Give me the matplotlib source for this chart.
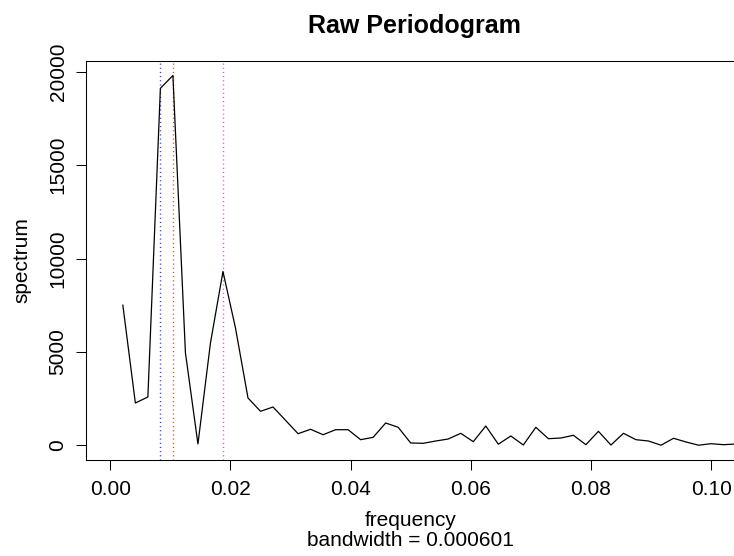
import numpy as np
import matplotlib
matplotlib.use("Agg")
import matplotlib.pyplot as plt

plt.rcParams['font.family'] = ['Liberation Sans', 'DejaVu Sans']

# Periodogram ordinates, frequency = k / 480
n_obs = 480
k = np.arange(1, 51)
spectrum = [7500, 2264, 2586, 19111, 19797, 4957, 70, 5476, 9304, 6279,
            2532, 1820, 2050, 1338, 621, 857, 567, 835, 835, 300,
            428, 1194, 964, 123, 107, 230, 337, 642, 193, 1033,
            59, 498, 16, 964, 353, 391, 535, 32, 749, 16,
            642, 300, 230, 5, 375, 177, 5, 86, 32, 70]
freq = k / n_obs

# marked frequencies (dotted verticals)
mark_freqs = [4 / n_obs, 5 / n_obs, 9 / n_obs]
mark_colors = ['blue', 'red', 'magenta']

xticks = [0.00, 0.02, 0.04, 0.06, 0.08, 0.10]
yticks = [0, 5000, 10000, 15000, 20000]

W, H = 734, 556
fig = plt.figure(figsize=(W / 100, H / 100), dpi=100)
ax = fig.add_axes([86.3 / W, 96 / H, (735.1 - 86.3) / W, (495.3 - 96) / H])

for fx, c in zip(mark_freqs, mark_colors):
    ax.axvline(fx, color=c, lw=1.0, linestyle=(0, (0.8, 2.2)), alpha=0.8)
ax.plot(freq, spectrum, color='black', lw=0.9)

ax.set_xlim(-0.004, 0.104)
ax.set_ylim(-787, 20589)
ax.set_xticks(xticks)
ax.set_xticklabels([f"{t:.2f}" for t in xticks])
ax.set_yticks(yticks)
ax.set_yticklabels([str(t) for t in yticks], rotation=90, va='center')

ax.tick_params(axis='both', direction='out', length=7.2, width=0.75,
               labelsize=15, colors='black')
ax.tick_params(axis='x', pad=7.2)
ax.tick_params(axis='y', pad=6.3)
for s in ax.spines.values():
    s.set_linewidth(0.75)
    s.set_color('black')
ax.spines['right'].set_visible(False)  # cropped off in the original

fig.text(414 / W, (H - 33) / H, "Raw Periodogram", ha='center',
         va='baseline', fontsize=18, fontweight='bold')
fig.text(410.7 / W, (H - 526) / H, "frequency", ha='center',
         va='baseline', fontsize=15)
fig.text(410.7 / W, (H - 546) / H, "bandwidth = 0.000601", ha='center',
         va='baseline', fontsize=15)
fig.text(22 / W, (H - 260.4) / H, "spectrum", ha='center', va='center',
         rotation=90, fontsize=15)

fig.savefig("out.png", dpi=100)
